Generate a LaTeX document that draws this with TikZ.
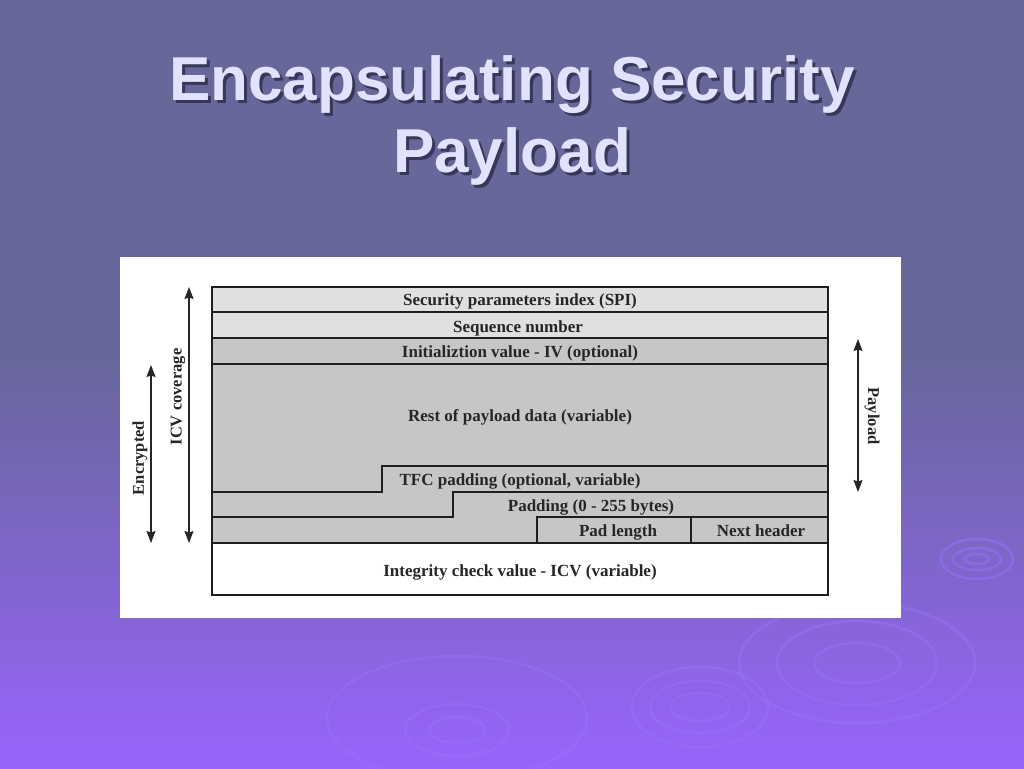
\documentclass[tikz,border=0pt]{standalone}
\usepackage{fontspec}
\setmainfont{Liberation Serif}
\newfontfamily\titlefont{Liberation Sans}
\usetikzlibrary{arrows.meta}
\definecolor{bgtop}{RGB}{103,103,153}
\definecolor{bgbot}{RGB}{152,100,252}
\definecolor{titlefg}{RGB}{226,226,255}
\definecolor{titlesh}{RGB}{55,55,90}
\definecolor{lightrow}{RGB}{224,224,224}
\definecolor{midrow}{RGB}{198,198,198}
\definecolor{frame}{RGB}{30,30,30}
\definecolor{ripple}{RGB}{150,112,245}
\newcommand{\shadowtext}[1]{\makebox[0pt][l]{\kern3pt\raisebox{-3pt}{\textcolor{titlesh}{#1}}}#1}
\tikzset{
  rowtext/.style={font=\fontsize{17}{19}\selectfont\bfseries, text=black!85, inner sep=0pt},
  sidetext/.style={font=\fontsize{16.5}{18}\selectfont\bfseries, text=black!85, inner sep=0pt},
  frameline/.style={draw=frame, line width=1.8pt},
  span/.style={draw=black!85, line width=1.3pt, {Stealth[length=12pt,width=9pt,inset=1.5pt]}-{Stealth[length=12pt,width=9pt,inset=1.5pt]}},
  titletxt/.style={font=\titlefont\fontsize{62}{72}\selectfont\bfseries, inner sep=0pt, anchor=base, text=titlefg},
  ring/.style={draw=ripple, line width=2.5pt, opacity=0.6}
}
\begin{document}
\begin{tikzpicture}[x=1pt,y=-1pt]
\useasboundingbox (0,0) rectangle (1024,768);
% background
\fill[bgtop] (0,0) rectangle (1024,351);
\shade[top color=bgtop, bottom color=bgbot] (0,350) rectangle (1024,768);
% ripples
\draw[ring] (977,559) ellipse (12 and 5);
\draw[ring] (977,559) ellipse (24 and 11);
\draw[ring] (977,559) ellipse (36 and 20);
\draw[ring] (857,663) ellipse (43 and 20);
\draw[ring] (857,663) ellipse (80 and 42);
\draw[ring] (857,663) ellipse (118 and 60);
\draw[ring] (700,707) ellipse (30 and 14);
\draw[ring] (700,707) ellipse (50 and 26);
\draw[ring] (700,707) ellipse (68 and 40);
\draw[ring] (457,730) ellipse (28 and 13);
\draw[ring] (457,730) ellipse (52 and 26);
\draw[ring] (457,718) ellipse (130 and 62);
% title
\node[titletxt] (t1) at (512,100) {\shadowtext{Encapsulating Security}};
\node[titletxt] (t2) at (512,172) {\shadowtext{Payload}};
% white panel
\fill[white] (120,257) rectangle (901,618);
% table fills
\fill[lightrow] (212,287) rectangle (828,338);
\fill[midrow] (212,338) rectangle (828,543);
\fill[white] (212,543) rectangle (828,595);
% table lines
\draw[frameline] (212,312) -- (828,312);
\draw[frameline] (212,338) -- (828,338);
\draw[frameline] (212,364) -- (828,364);
\draw[frameline] (212,492) -- (382,492) -- (382,466) -- (828,466);
\draw[frameline] (212,517) -- (453,517) -- (453,492) -- (828,492);
\draw[frameline] (537,543) -- (537,517) -- (828,517);
\draw[frameline] (691,517) -- (691,543);
\draw[frameline] (212,543) -- (828,543);
\draw[draw=frame, line width=2.3pt] (212,287) rectangle (828,595);
% row labels
\node[rowtext] (spi) at (520,301) {Security parameters index (SPI)};
\node[rowtext] (seq) at (518,328) {Sequence number};
\node[rowtext] (iv) at (520,353.5) {Initializtion value - IV (optional)};
\node[rowtext] (rest) at (520,417) {Rest of payload data (variable)};
\node[rowtext] (tfc) at (520,481) {TFC padding (optional, variable)};
\node[rowtext] (pad) at (591,507) {Padding (0 - 255 bytes)};
\node[rowtext] (padlen) at (618,532) {Pad length};
\node[rowtext] (next) at (761,531) {Next header};
\node[rowtext] (icv) at (520,572) {Integrity check value - ICV (variable)};
% side arrows
\coordinate (icvtop) at (189,287);
\coordinate (icvbot) at (189,543);
\coordinate (enctop) at (151,365);
\coordinate (encbot) at (151,543);
\coordinate (paytop) at (858,339);
\coordinate (paybot) at (858,492);
\draw[span] (icvtop) -- (icvbot);
\draw[span] (enctop) -- (encbot);
\draw[span] (paytop) -- (paybot);
\node[sidetext, rotate=90] (icvlab) at (178,397) {ICV coverage};
\node[sidetext, rotate=90] (enclab) at (140,458) {Encrypted};
\node[sidetext, rotate=-90] (paylab) at (872,416) {Payload};
\end{tikzpicture}
\end{document}
